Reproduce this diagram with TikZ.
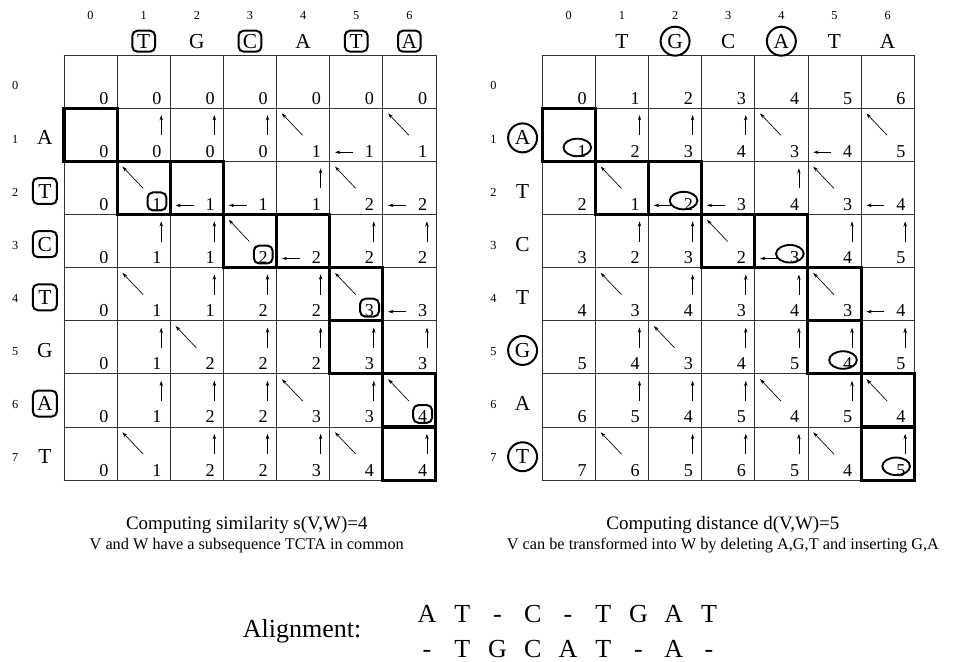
\documentclass[tikz,border=0pt]{standalone}
\usepackage{fontspec}
\setmainfont{Liberation Serif}
\usetikzlibrary{arrows.meta,positioning}
\newcommand{\ptrn}[2]{}
\newcommand{\ptru}[2]{\draw[trace] ({#1+0.83},{-#2-0.51}) -- ({#1+0.83},{-#2-0.13});}
\newcommand{\ptrd}[2]{\draw[trace] ({#1+0.49},{-#2-0.51}) -- ({#1+0.10},{-#2-0.10});}
\newcommand{\ptrl}[2]{\draw[trace] ({#1+0.44},{-#2-0.83}) -- ({#1+0.10},{-#2-0.83});}
\newcommand{\dptable}[2]{%
  \foreach \x in {0,...,7} \draw[gridline] (\x,0) -- (\x,-8);
  \foreach \y in {0,...,8} \draw[gridline] (0,-\y) -- (7,-\y);
  \foreach \i/\j in {1/0,2/1,2/2,3/3,3/4,4/5,5/5,6/6,7/6}
    \draw[pathcell] (\j,-\i) rectangle ++(1,-1);
  \foreach \row [count=\i from 0] in {#2} {
    \foreach \v/\d [count=\j from 0] in \row {
      \node[val] (#1-\i-\j) at (\j+0.84,-\i-0.925) {\v};
      \csname ptr\d\endcsname{\j}{\i}
    }
  }
  \foreach \j in {0,...,6} \node[idx] (#1col\j) at (\j+0.5,0.75) {\j};
  \foreach \i in {0,...,7} \node[idx] (#1row\i) at (-0.92,-\i-0.58) {\i};
}

\begin{document}
\begin{tikzpicture}[x=1.4cm,y=1.4cm,
  gridline/.style={line width=0.6pt,black!80},
  pathcell/.style={line width=2.3pt,line join=miter},
  val/.style={anchor=base east,inner sep=0pt,font=\fontsize{13.6}{16}\selectfont},
  trace/.style={line width=0.5pt,-{Stealth[length=4pt,width=2.6pt]}},
  idx/.style={inner sep=0pt,font=\fontsize{9.2}{11}\selectfont},
  letter/.style={inner sep=0pt,font=\fontsize{16}{18}\selectfont},
  bare/.style={},
  colbox/.style={draw,line width=1.5pt,rounded corners=3.7pt,minimum width=17pt,minimum height=15.7pt},
  rowbox/.style={draw,line width=1.5pt,rounded corners=3.7pt,minimum width=18pt,minimum height=19.4pt},
  ring/.style={draw,circle,line width=1.5pt,minimum size=21.7pt},
  hitbox/.style={draw,line width=1.5pt,rounded corners=4pt,minimum width=14.2pt,minimum height=13.4pt},
  hitring/.style={line width=1.4pt},
  caption/.style={anchor=base,inner sep=0pt,font=\fontsize{14.2}{17}\selectfont},
  note/.style={anchor=base,inner sep=0pt,font=\fontsize{12.2}{14}\selectfont},
  alnchar/.style={anchor=base,inner sep=0pt,font=\fontsize{19.5}{23}\selectfont}]
\useasboundingbox (-1.204,1.035) rectangle (16.730,-11.405);

% similarity table
\dptable{L}{{0/n,0/n,0/n,0/n,0/n,0/n,0/n},
  {0/n,0/u,0/u,0/u,1/d,1/l,1/d},
  {0/n,1/d,1/l,1/l,1/u,2/d,2/l},
  {0/n,1/u,1/u,2/d,2/l,2/u,2/u},
  {0/n,1/d,1/u,2/u,2/u,3/d,3/l},
  {0/n,1/u,2/d,2/u,2/u,3/u,3/u},
  {0/n,1/u,2/u,2/u,3/d,3/u,4/d},
  {0/n,1/d,2/u,2/u,3/u,4/d,4/u}}
\foreach \c/\s [count=\j] in {T/colbox,G/bare,C/colbox,A/bare,T/colbox,A/colbox}
  \node[letter,\s] (Lc\j) at (\j+0.5,0.26) {\c};
\foreach \c/\s [count=\i] in {A/bare,T/rowbox,C/rowbox,T/rowbox,G/bare,A/rowbox,T/bare}
  \node[letter,\s] (Lr\i) at (-0.36,-\i-0.56) {\c};
\foreach \i/\j in {2/1,3/3,4/5,6/6}
  \node[hitbox] (Lhit\i) at (\j+0.75,-\i-0.755) {};

% distance table
\begin{scope}[shift={(9,0)}]
\dptable{R}{{0/n,1/n,2/n,3/n,4/n,5/n,6/n},
  {1/n,2/u,3/u,4/u,3/d,4/l,5/d},
  {2/n,1/d,2/l,3/l,4/u,3/d,4/l},
  {3/n,2/u,3/u,2/d,3/l,4/u,5/u},
  {4/n,3/d,4/u,3/u,4/u,3/d,4/l},
  {5/n,4/u,3/d,4/u,5/u,4/u,5/u},
  {6/n,5/u,4/u,5/u,4/d,5/u,4/d},
  {7/n,6/d,5/u,6/u,5/u,4/d,5/u}}
\foreach \c/\s [count=\j] in {T/bare,G/ring,C/bare,A/ring,T/bare,A/bare}
  \node[letter,\s] (Rc\j) at (\j+0.5,0.26) {\c};
\foreach \c/\s [count=\i] in {A/ring,T/bare,C/bare,T/bare,G/ring,A/bare,T/ring}
  \node[letter,\s] (Rr\i) at (-0.37,-\i-0.56) {\c};
\foreach \i/\j in {1/0,2/2,3/4,5/5,7/6}
  \draw[hitring] (\j+0.66,-\i-0.74) ellipse (0.26 and 0.165);
\end{scope}

% captions
\node[caption] (simtitle) at (3.44,-8.92) {Computing similarity s(V,W)=4};
\node[note] (simnote) at (3.44,-9.31) {V and W have a subsequence TCTA in common};
\node[caption] (disttitle) at (12.40,-8.92) {Computing distance d(V,W)=5};
\node[note] (distnote) at (12.40,-9.31) {V can be transformed into W by deleting A,G,T and inserting G,A};

% alignment
\node[alnchar] (alnlabel) at (4.48,-10.97) {Alignment:};
\foreach \c [count=\k from 0] in {A,T,-,C,-,T,G,A,T}
  \node[alnchar] (top\k) at (6.831+0.6633*\k,-10.67) {\c};
\foreach \c [count=\k from 0] in {-,T,G,C,A,T,-,A,-}
  \node[alnchar] (bot\k) at (6.831+0.6633*\k,-11.33) {\c};
\end{tikzpicture}
\end{document}
